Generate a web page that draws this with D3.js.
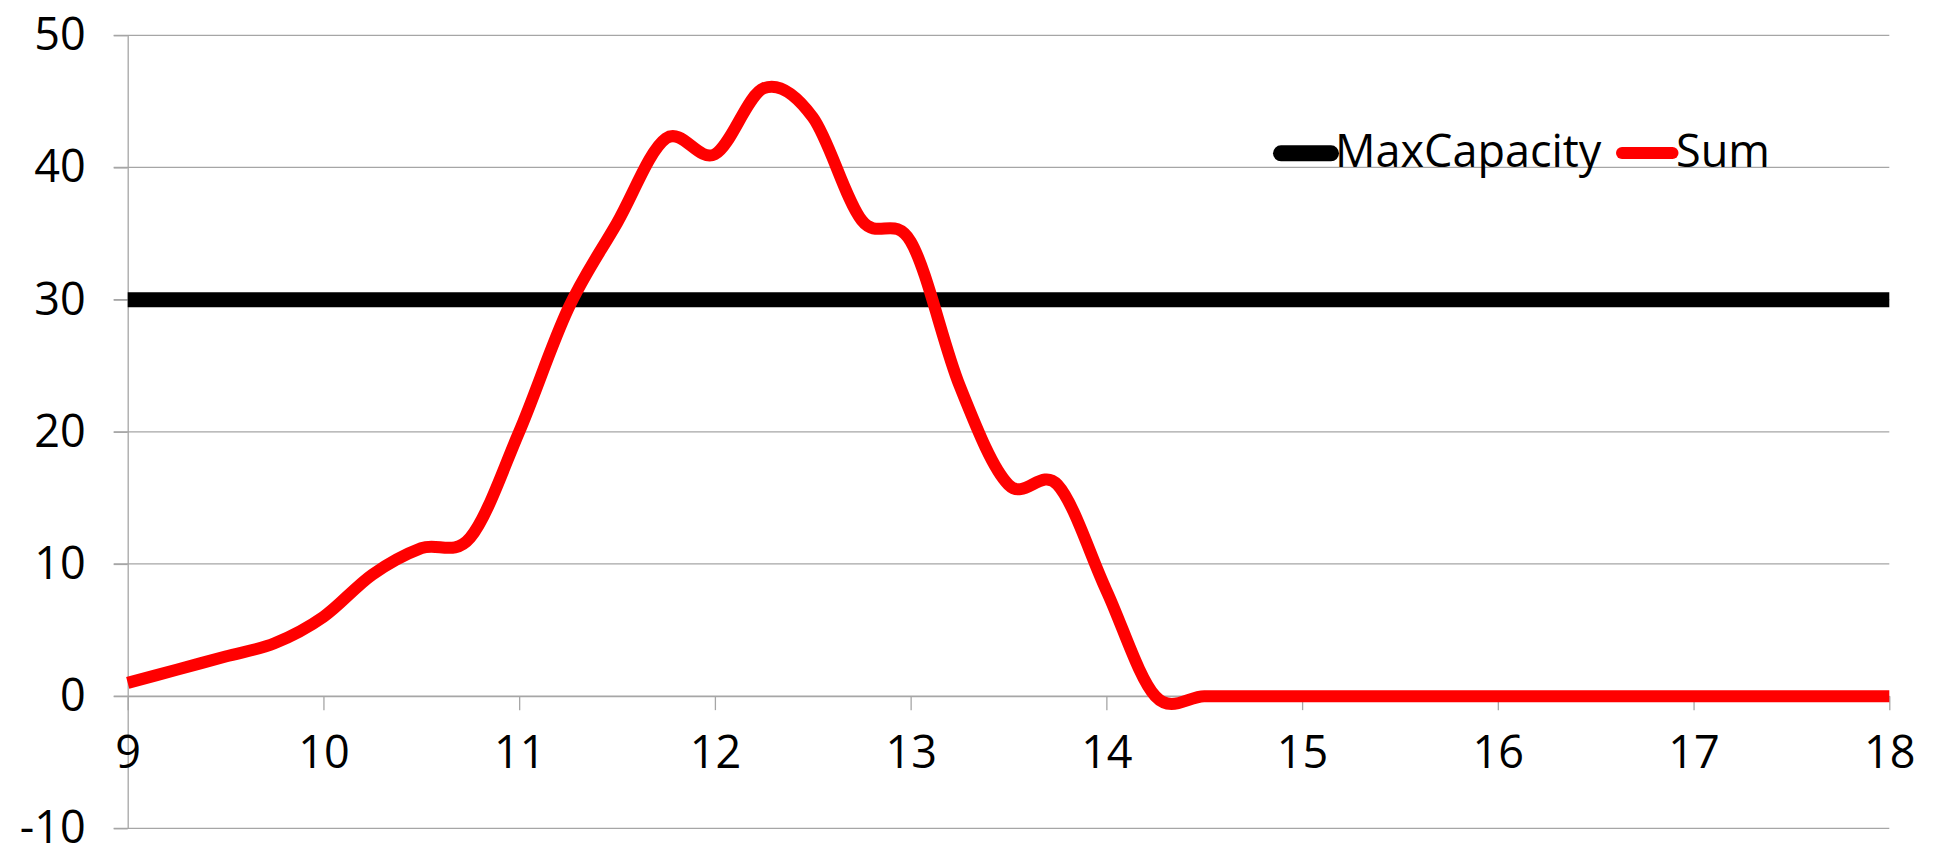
<!DOCTYPE html>
<html>
<head>
<meta charset="utf-8">
<script src="https://cdn.jsdelivr.net/npm/d3@7/dist/d3.min.js"></script>
<style>
  html, body { margin: 0; padding: 0; background: #ffffff; }
  svg { display: block; }
  text { font-family: "Open Sans", "Noto Sans", sans-serif; fill: #000000; }
</style>
</head>
<body>
<svg id="chart" width="1936" height="845"></svg>
<script>
// Time of day (hours), one reading every quarter hour
const hours = [
  9, 9.25, 9.5, 9.75, 10, 10.25, 10.5, 10.75, 11, 11.25, 11.5, 11.75,
  12, 12.25, 12.5, 12.75, 13, 13.25, 13.5, 13.75, 14, 14.25, 14.5, 14.75,
  15, 15.25, 15.5, 15.75, 16, 16.25, 16.5, 16.75, 17, 17.25, 17.5, 17.75, 18
];

// Capacity limit
const maxCapacity = [
  30, 30, 30, 30, 30, 30, 30, 30, 30, 30, 30, 30,
  30, 30, 30, 30, 30, 30, 30, 30, 30, 30, 30, 30,
  30, 30, 30, 30, 30, 30, 30, 30, 30, 30, 30, 30, 30
];

// Summed load at each reading
const sumValues = [
  1, 2, 3, 4, 6, 9.2, 11.2, 12, 20, 29.3, 35.8, 42.2,
  41, 46, 43.8, 36, 34.4, 23.5, 16, 16, 8, 0, 0, 0,
  0, 0, 0, 0, 0, 0, 0, 0, 0, 0, 0, 0, 0
];

const xTicks = [9, 10, 11, 12, 13, 14, 15, 16, 17, 18];
const yTicks = [-10, 0, 10, 20, 30, 40, 50];
const seriesNames = ["MaxCapacity", "Sum"];

const svg = d3.select("#chart");
const gridColor = "#a6a6a6";
const fontSize = 45;
const plainNumber = d => String(d); // keep a plain hyphen for negatives

const x = d3.scaleLinear().domain([9, 18]).range([127.7, 1889.3]);
const y = d3.scaleLinear().domain([-10, 50]).range([828.3, 35.3]);

// Horizontal gridlines, stretching slightly left of the axis as tick marks
svg.append("g")
  .selectAll("line")
  .data(yTicks)
  .join("line")
  .attr("x1", x.range()[0] - 14)
  .attr("x2", x.range()[1])
  .attr("y1", d => y(d))
  .attr("y2", d => y(d))
  .attr("stroke", gridColor)
  .attr("stroke-width", 1.3);

// Value axis
const yAxis = svg.append("g")
  .attr("transform", `translate(${x.range()[0]},0)`)
  .call(d3.axisLeft(y).tickValues(yTicks).tickSize(14).tickSizeOuter(0)
    .tickPadding(28).tickFormat(plainNumber));
yAxis.select(".domain").attr("stroke", gridColor).attr("stroke-width", 1.3);
yAxis.selectAll(".tick line").attr("stroke", gridColor).attr("stroke-width", 1.3);
yAxis.selectAll("text")
  .style("font-family", "'Open Sans', 'Noto Sans', sans-serif")
  .style("font-size", fontSize + "px")
  .attr("fill", "#000");

// Hour axis, crossing at zero
const xAxis = svg.append("g")
  .attr("transform", `translate(0,${y(0)})`)
  .call(d3.axisBottom(x).tickValues(xTicks).tickSize(14).tickSizeOuter(0)
    .tickPadding(26).tickFormat(plainNumber));
xAxis.select(".domain").attr("stroke", gridColor).attr("stroke-width", 1.3);
xAxis.selectAll(".tick line").attr("stroke", gridColor).attr("stroke-width", 1.3);
xAxis.selectAll("text")
  .style("font-family", "'Open Sans', 'Noto Sans', sans-serif")
  .style("font-size", fontSize + "px")
  .attr("fill", "#000");

// Smoothed lines
const line = d3.line()
  .x(d => x(d[0]))
  .y(d => y(d[1]))
  .curve(d3.curveCardinal.tension(0));

svg.append("path")
  .datum(hours.map((h, i) => [h, maxCapacity[i]]))
  .attr("d", line)
  .attr("fill", "none")
  .attr("stroke", "#000000")
  .attr("stroke-width", 15);

svg.append("path")
  .datum(hours.map((h, i) => [h, sumValues[i]]))
  .attr("d", line)
  .attr("fill", "none")
  .attr("stroke", "#ff0000")
  .attr("stroke-width", 12)
  .attr("stroke-linejoin", "round");

// Legend
const legend = svg.append("g");
const legendItems = [
  { name: seriesNames[0], color: "#000000", width: 16, x1: 1281, x2: 1331, ty: 153.3, tx: 1335 },
  { name: seriesNames[1], color: "#ff0000", width: 12, x1: 1622, x2: 1672.5, ty: 153, tx: 1676 }
];
legendItems.forEach(it => {
  legend.append("line")
    .attr("x1", it.x1).attr("x2", it.x2)
    .attr("y1", it.ty).attr("y2", it.ty)
    .attr("stroke", it.color)
    .attr("stroke-width", it.width)
    .attr("stroke-linecap", "round");
  legend.append("text")
    .attr("x", it.tx)
    .attr("y", 167.3)
    .style("font-size", fontSize + "px")
    .text(it.name);
});
</script>
</body>
</html>
